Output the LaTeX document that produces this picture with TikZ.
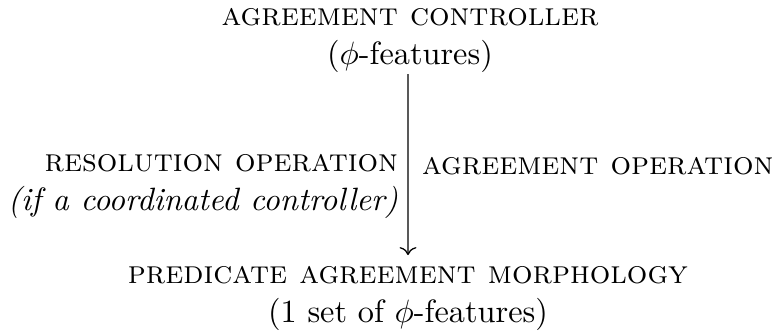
\documentclass[tikz,border=0pt]{standalone}
\usetikzlibrary{arrows.meta}
\tikzset{
  lbl/.style={inner sep=0pt, outer sep=0pt, font=\normalsize},
  flow/.style={->, line width=0.4pt}
}
\begin{document}
\begin{tikzpicture}[x=0.3096pt, y=-0.3096pt]
  \useasboundingbox (0,0) rectangle (772,330);
  % controller at the top, resulting morphology at the bottom
  % (base anchor of a multi-line node sits on its last line)
  \node[lbl, anchor=base, align=center] (ctrl) at (410,64)
    {\textsc{agreement controller}\\($\phi$-features)};
  \node[lbl, anchor=base, align=center] (morph) at (408,322)
    {\textsc{predicate agreement morphology}\\(1 set of $\phi$-features)};
  % the two operations flanking the arrow
  \node[lbl, anchor=base east, align=right] (res) at (398,210)
    {\textsc{resolution operation}\\\textit{(if a coordinated controller)}};
  \node[lbl, anchor=base west] (agr) at (422,174)
    {\textsc{agreement operation}};
  \draw[flow] ([xshift=-0.6pt,yshift=-0.6pt]ctrl.south) -- ([yshift=3.4pt]morph.north);
\end{tikzpicture}
\end{document}
